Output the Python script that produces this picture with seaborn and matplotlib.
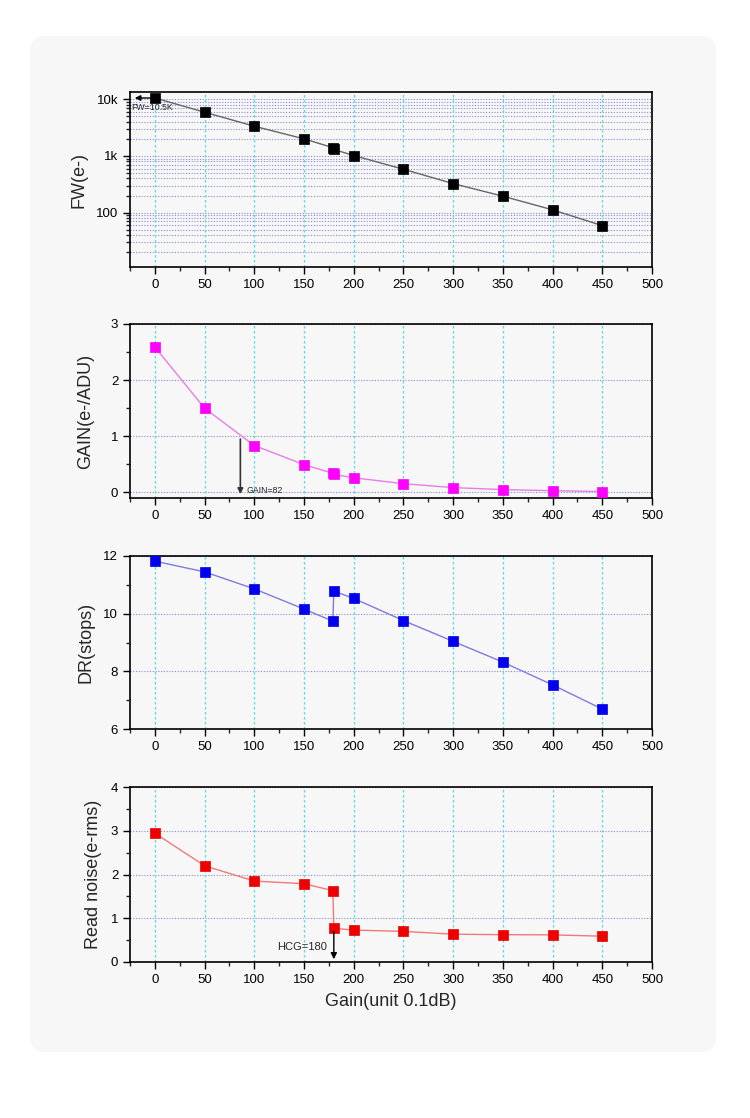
import numpy as np
import pandas as pd
import matplotlib
matplotlib.use('Agg')
import matplotlib.pyplot as plt
import matplotlib.ticker as mticker
from matplotlib.patches import FancyBboxPatch
import seaborn as sns

# Valores (ganho em unidades de 0.1dB)
ganho = [0, 50, 100, 150, 179, 180, 200, 250, 300, 350, 400, 450]
fw = [10500, 5900, 3340, 2000, 1400, 1300, 1016, 582, 325, 195, 112, 59]
gain_adu = [2.59, 1.50, 0.835, 0.495, 0.34, 0.32, 0.26, 0.155, 0.085, 0.05, 0.03, 0.015]
dr = [11.82, 11.45, 10.86, 10.16, 9.74, 10.78, 10.53, 9.76, 9.04, 8.32, 7.53, 6.69]
read_noise = [2.945, 2.20, 1.85, 1.79, 1.63, 0.77, 0.73, 0.70, 0.635, 0.625, 0.62, 0.59]

sns.set_theme(style="ticks")
plt.rcParams['font.family'] = ['Liberation Sans', 'DejaVu Sans']

W, H = 750, 1118
fig = plt.figure(figsize=(W / 100, H / 100), dpi=100)
fig.patch.set_facecolor('white')

# cartão cinza claro de fundo, num eixo por trás de tudo
fundo = fig.add_axes([0, 0, 1, 1], zorder=-10)
fundo.set_axis_off()
fundo.set_xlim(0, W)
fundo.set_ylim(H, 0)
fundo.add_patch(FancyBboxPatch((30, 36), 686, 1016,
                               boxstyle="round,pad=0,rounding_size=15",
                               facecolor='#f7f7f7', edgecolor='none'))

df = pd.DataFrame({'ganho': ganho, 'fw': fw, 'gain': gain_adu, 'dr': dr, 'rn': read_noise})

paineis = [(92, 267), (324, 498), (556, 729), (787, 962)]
eixos = []
for topo, base in paineis:
    ax = fig.add_axes([130 / W, 1 - base / H, 522 / W, (base - topo) / H], zorder=1)
    ax.set_facecolor('#f7f7f7')
    eixos.append(ax)

cor_vgrid = '#55dde6'
cor_hgrid = '#8a8ad8'


def estilo(ax):
    ax.set_xlim(-25, 500)
    ax.xaxis.set_major_locator(mticker.MultipleLocator(50))
    ax.xaxis.set_minor_locator(mticker.MultipleLocator(25))
    for s in ax.spines.values():
        s.set_visible(True)
        s.set_color('black')
        s.set_linewidth(1.2)
    ax.tick_params(which='major', direction='out', length=5, width=1, labelsize=9.5,
                   colors='black', top=False, right=False)
    ax.tick_params(which='minor', direction='out', length=3, width=1,
                   top=False, right=False)
    for xv in range(0, 451, 50):
        ax.axvline(xv, color=cor_vgrid, lw=0.9, ls=(0, (2, 2)), zorder=1)
    ax.set_xlabel('')


def series(ax, col, cor_linha, cor_marca):
    sns.lineplot(data=df, x='ganho', y=col, color=cor_linha, lw=1, ax=ax, zorder=3)
    sns.scatterplot(data=df, x='ganho', y=col, marker='s', s=45, color=cor_marca,
                    edgecolor=cor_marca, linewidth=0.5, ax=ax, zorder=4)


# FW
ax = eixos[0]
series(ax, 'fw', '#666666', 'black')
ax.set_yscale('log')
ax.set_ylim(11, 13400)
ax.yaxis.set_major_locator(mticker.FixedLocator([100, 1000, 10000]))
ax.yaxis.set_major_formatter(mticker.FixedFormatter(['100', '1k', '10k']))
ax.yaxis.set_minor_locator(mticker.LogLocator(base=10, subs=np.arange(2, 10)))
ax.yaxis.set_minor_formatter(mticker.NullFormatter())
ax.grid(False)
ax.yaxis.grid(True, which='both', color=cor_hgrid, lw=0.8, ls=(0, (1, 1.5)))
estilo(ax)
ax.set_ylabel('FW(e-)', fontsize=13, labelpad=6)
ax.annotate('', xy=(-23, 10500), xytext=(0, 10500),
            arrowprops=dict(arrowstyle='-|>', color='black', lw=1, mutation_scale=8), zorder=5)
ax.text(-24, 7000, 'FW=10.5K', fontsize=6.3, va='center', ha='left', zorder=5)

# GAIN
ax = eixos[1]
series(ax, 'gain', '#e67ee6', '#ff00ff')
ax.set_ylim(-0.1, 3)
ax.yaxis.set_major_locator(mticker.MultipleLocator(1))
ax.yaxis.set_minor_locator(mticker.MultipleLocator(0.5))
ax.grid(False)
ax.yaxis.grid(True, which='major', color=cor_hgrid, lw=0.8, ls=(0, (1, 1.5)))
estilo(ax)
ax.set_ylabel('GAIN(e-/ADU)', fontsize=13, labelpad=12)
ax.annotate('', xy=(86, -0.08), xytext=(86, 1.0),
            arrowprops=dict(arrowstyle='-|>', color='#333333', lw=1.2, mutation_scale=8), zorder=5)
ax.text(92, 0.03, 'GAIN=82', fontsize=6.3, va='center', ha='left', zorder=5)

# DR
ax = eixos[2]
series(ax, 'dr', '#7c7ce0', '#0000ee')
ax.set_ylim(6, 12)
ax.yaxis.set_major_locator(mticker.MultipleLocator(2))
ax.yaxis.set_minor_locator(mticker.MultipleLocator(1))
ax.grid(False)
ax.yaxis.grid(True, which='major', color=cor_hgrid, lw=0.8, ls=(0, (1, 1.5)))
estilo(ax)
ax.set_ylabel('DR(stops)', fontsize=13, labelpad=6)

# Read noise
ax = eixos[3]
series(ax, 'rn', '#f07a7a', '#ee0000')
ax.set_ylim(0, 4)
ax.yaxis.set_major_locator(mticker.MultipleLocator(1))
ax.yaxis.set_minor_locator(mticker.MultipleLocator(0.5))
ax.grid(False)
ax.yaxis.grid(True, which='major', color=cor_hgrid, lw=0.8, ls=(0, (1, 1.5)))
estilo(ax)
ax.set_ylabel('Read noise(e-rms)', fontsize=13, labelpad=6)
ax.set_xlabel('Gain(unit 0.1dB)', fontsize=13, labelpad=5)
ax.annotate('', xy=(180, 0.0), xytext=(180, 0.77),
            arrowprops=dict(arrowstyle='-|>', color='black', lw=1, mutation_scale=9), zorder=5)
ax.text(173, 0.34, 'HCG=180', fontsize=8, va='center', ha='right', zorder=5)

for ax in eixos:
    ax.set_axisbelow(True)

fig.savefig('out.png', dpi=100, facecolor='white')
